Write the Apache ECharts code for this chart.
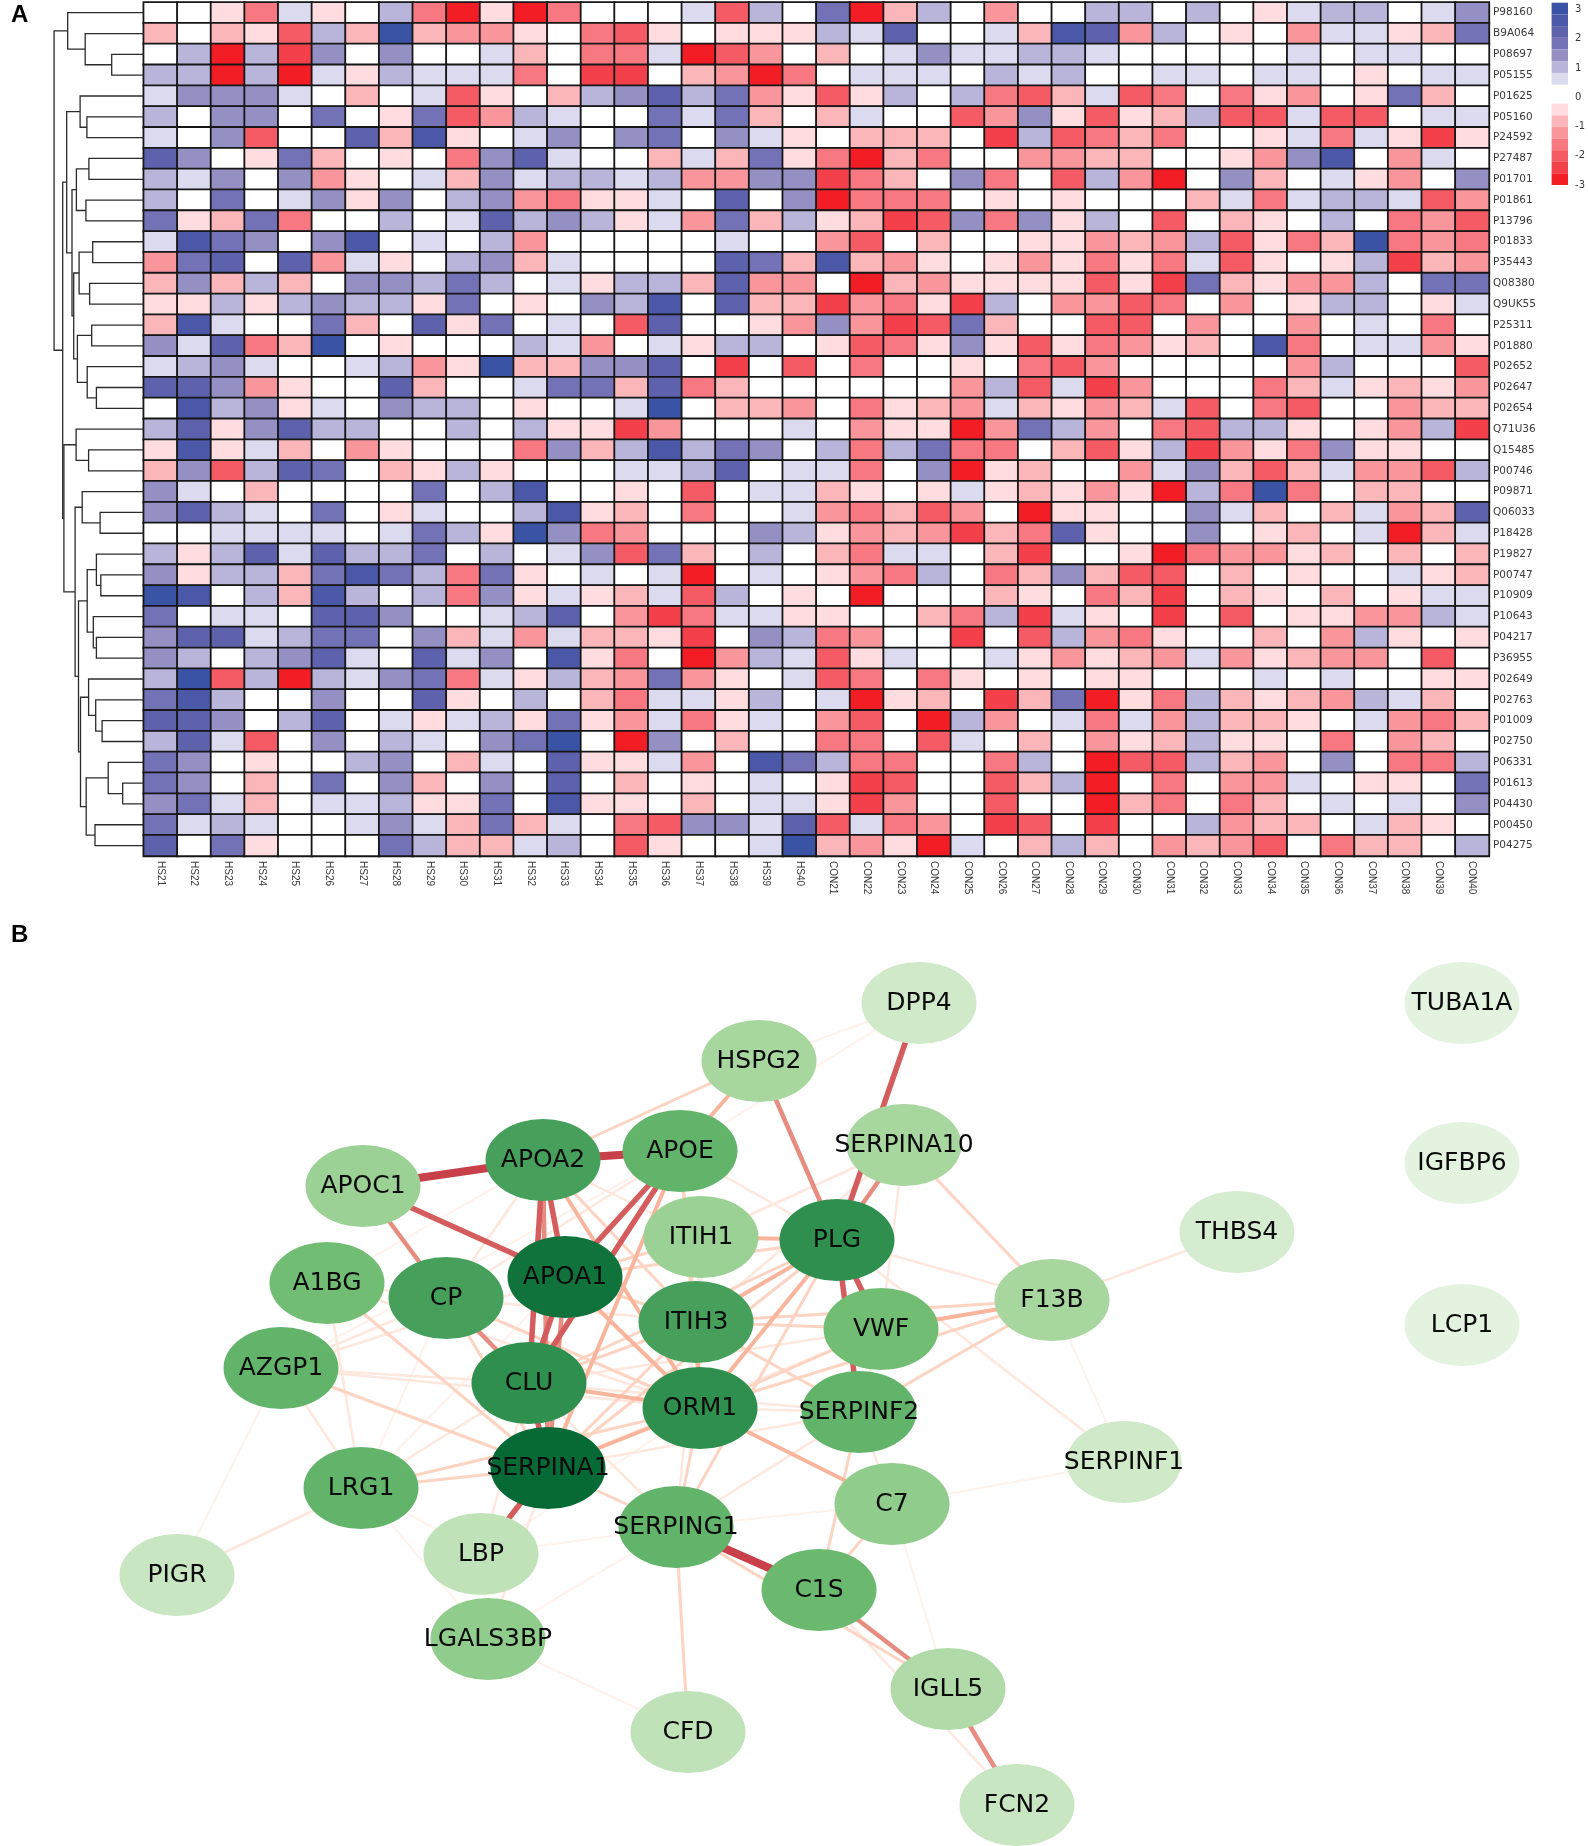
<!DOCTYPE html>
<html>
<head>
<meta charset="UTF-8">
<title>heatmap and network</title>
<style>
  html, body { margin: 0; background: #fff; }
  #main { width: 1588px; height: 1846px; }
</style>
</head>
<body>
<div id="main"></div>
<script src="https://cdn.jsdelivr.net/npm/echarts@6/dist/echarts.min.js"></script>
<script>
// panel A: sample names, protein names
var samples = ['HS21','HS22','HS23','HS24','HS25','HS26','HS27','HS28','HS29','HS30','HS31','HS32','HS33','HS34','HS35','HS36','HS37','HS38','HS39','HS40',
  'CON21','CON22','CON23','CON24','CON25','CON26','CON27','CON28','CON29','CON30','CON31','CON32','CON33','CON34','CON35','CON36','CON37','CON38','CON39','CON40'];
var proteins = ['P98160','B9A064','P08697','P05155','P01625','P05160','P24592','P27487','P01701','P01861','P13796','P01833','P35443','Q08380','Q9UK55','P25311','P01880','P02652','P02647','P02654','Q71U36','Q15485','P00746','P09871','Q06033','P18428','P19827','P00747','P10909','P10643','P04217','P36955','P02649','P02763','P01009','P02750','P06331','P01613','P04430','P00450','P04275'];

// heat levels, -7 (deepest red) .. 7 (deepest blue), one line per protein
var heatRows = [
  [0,0,-1,-4,1,-1,0,2,-4,-7,-1,-7,-4,0,0,0,1,-5,2,0,4,-7,-2,2,0,-3,0,0,2,2,0,2,0,-1,1,2,2,0,1,3],
  [-2,0,-2,-1,-5,2,-2,7,-2,-3,-3,-1,0,-4,-5,-1,0,-1,-1,-1,2,1,5,0,0,1,-2,6,5,-3,2,0,-1,0,-3,1,1,-1,-2,4],
  [0,2,-7,2,-6,3,0,3,0,0,1,-2,0,-4,-4,1,-7,-5,-3,0,-2,0,1,3,1,1,2,2,1,0,0,0,0,0,1,0,1,1,0,0],
  [2,2,-7,2,-7,1,-1,2,1,1,1,-4,0,-6,-6,0,-2,-3,-7,-4,0,1,1,1,0,2,1,2,0,0,1,1,0,1,1,0,-1,0,1,1],
  [1,3,3,3,1,0,-2,0,1,-5,-1,0,-2,2,3,5,2,4,-3,-1,-5,-1,2,0,2,-4,-5,-2,1,-5,-4,0,-4,-1,-3,0,-1,4,-2,0],
  [2,0,3,3,0,4,0,-1,4,-5,-3,2,1,0,0,4,1,4,-2,0,-2,1,0,0,-5,-3,3,-1,-5,-1,-2,2,-5,-5,1,-5,-5,0,1,1],
  [1,0,3,-5,0,0,5,-2,6,-1,0,1,3,0,3,4,0,3,1,-1,0,-2,-2,-2,0,-6,2,-5,-4,-2,-4,0,0,-1,1,-4,1,-1,-6,-1],
  [5,3,0,-1,4,-2,0,-1,0,-4,3,5,1,0,0,-2,1,-2,4,-1,-4,-7,-2,-4,0,0,-3,-3,-2,-2,0,0,-1,-3,3,6,0,-3,1,0],
  [2,1,3,0,3,-3,-1,0,1,-2,3,1,2,2,1,2,-3,-3,3,3,-6,-4,-2,0,3,-4,0,-5,2,-3,-7,0,3,-2,0,1,-1,-3,0,3],
  [2,0,4,0,1,3,-1,3,0,2,3,-3,-4,-1,-1,1,0,5,0,3,-7,-4,-4,-4,0,-1,0,-1,0,0,0,-2,1,-4,1,2,2,1,-5,-3],
  [4,-1,-2,4,-4,0,0,2,0,1,5,2,3,2,-1,1,-3,4,-2,2,-1,-2,-6,-5,3,-4,3,-1,2,0,-5,0,-2,-1,0,2,0,-4,-3,-5],
  [1,6,4,3,0,3,6,0,1,0,2,-3,0,0,0,0,0,1,0,0,-3,-5,0,-2,0,0,-1,-1,-3,-2,-3,2,-5,-1,-4,-2,7,-4,-3,-4],
  [-3,4,5,0,5,-3,1,-1,0,2,3,-2,1,0,0,0,0,5,4,-2,6,-2,-3,-1,0,-1,-3,-1,-4,-1,-4,1,-5,-1,0,-1,2,-6,-2,-3],
  [-2,3,-2,2,-2,0,3,3,2,4,2,0,1,-1,2,2,-2,5,-3,-3,0,-7,-2,-3,-1,-1,-1,-1,-5,-1,-6,4,-2,-1,-3,-3,2,0,4,4],
  [-1,-1,2,-1,2,3,2,2,-1,4,0,-1,0,3,2,6,0,5,-2,-2,-6,-3,-4,-1,-6,2,0,-3,-3,-5,-4,0,-3,0,-1,2,2,0,-1,1],
  [-2,6,1,0,0,4,-2,0,5,-1,4,0,1,0,-5,5,0,0,-1,-3,3,-3,-6,-5,4,-2,0,0,-5,-5,0,-3,0,0,-3,0,1,0,-4,0],
  [3,1,5,-4,-2,7,0,-1,0,0,0,2,1,-3,0,1,-1,2,2,0,-1,-5,-4,-1,3,-1,-5,-1,-4,-3,-1,-2,0,6,-4,0,1,1,-3,-1],
  [1,2,3,1,0,0,1,2,-3,-1,7,-2,-2,3,3,5,0,-6,0,-5,0,-4,0,0,-1,0,-4,-5,-3,0,0,0,0,0,-3,2,0,0,0,-5],
  [5,5,3,-3,-1,0,0,5,-2,0,0,1,4,4,-2,5,-4,-2,0,0,0,0,0,0,-3,2,-5,1,-6,-3,0,0,0,-4,-2,1,-1,-2,-1,-3],
  [0,6,2,3,-1,1,0,3,2,2,0,-1,0,0,1,7,0,-2,-2,-3,0,-4,-1,-2,-3,1,-2,-1,-3,-2,1,-5,0,-4,-5,0,0,-3,-2,-2],
  [2,5,-1,3,5,2,2,0,0,2,0,2,-1,-1,-6,-3,0,0,0,1,0,-3,-1,-1,-7,-3,4,2,-3,0,-4,-5,2,2,-1,0,-1,-3,2,-6],
  [-1,6,-1,1,-2,0,-3,-1,0,0,0,-4,3,-2,2,6,2,4,3,0,2,-4,2,4,-4,-4,0,-2,-5,-1,2,-6,-3,-1,-4,3,-1,-1,0,0],
  [-2,3,-5,2,5,4,0,-2,-1,2,-1,0,0,0,1,1,2,5,0,1,1,-4,0,3,-7,-1,-2,0,0,-3,1,3,-2,-5,-2,1,-3,-3,-5,2],
  [3,1,0,-2,0,0,0,0,4,0,2,6,0,0,-1,0,-5,0,1,1,-2,-1,0,-1,1,-1,-2,-1,-3,-1,-7,2,-4,7,-4,0,-2,-2,0,0],
  [3,5,2,1,0,4,0,-1,1,0,0,2,6,-1,-2,0,-4,0,0,1,-3,-4,-2,-5,-3,0,-7,-1,-1,0,0,3,1,-2,0,-2,1,-3,-2,5],
  [0,0,1,1,1,1,0,1,4,2,-1,7,3,-4,-3,0,0,0,3,2,-1,-3,-2,-3,-6,-2,-4,5,-1,0,0,3,0,-1,-2,0,1,-7,-2,1],
  [2,-1,2,5,1,5,2,2,4,0,2,0,1,3,-5,4,-2,0,2,0,-2,-4,1,1,0,-2,-6,0,0,-1,-7,-4,-3,-3,-1,-2,0,-2,0,-2],
  [3,-1,2,2,-2,4,6,4,2,-4,4,-1,0,1,0,1,-7,0,1,0,-1,-3,-4,2,0,-4,-2,3,-2,-5,-5,0,-2,0,-1,0,0,1,-1,-2],
  [7,6,0,2,-2,6,2,0,2,-4,3,-1,1,-1,-2,1,-5,2,0,-1,0,-7,0,0,0,-2,-1,0,-4,-2,-6,0,-2,-1,0,-2,0,-1,1,1],
  [4,0,1,1,0,5,5,3,0,0,1,2,5,0,-3,-6,-4,1,1,-1,-1,0,0,-2,-4,2,-6,1,-1,0,-6,0,-5,0,-1,-1,-3,-3,2,1],
  [3,5,5,1,2,4,4,0,3,-2,1,-3,1,-2,-2,-1,-6,0,3,2,-4,-3,0,0,-6,0,-5,2,-3,-4,-1,0,0,-2,0,-3,2,-1,0,-1],
  [3,2,0,2,3,5,1,0,5,1,3,0,6,-1,-4,0,-7,-3,2,1,-5,-1,1,0,0,1,-1,-3,-1,-2,-3,1,-3,-1,-2,-3,-3,0,-5,0],
  [2,7,-5,2,-7,2,1,3,4,-4,1,-1,2,-2,-3,4,-3,-1,0,1,-5,-4,0,-4,-1,0,-1,0,-1,-1,0,0,0,1,0,1,0,0,-1,-1],
  [4,6,2,0,0,3,0,0,5,-1,0,2,0,-2,-4,1,1,-1,2,0,1,-7,-1,-2,0,-6,-2,4,-7,-1,-4,2,-2,-1,-2,-3,2,1,-2,0],
  [5,5,3,0,2,5,0,1,-1,1,2,-1,4,-1,-3,1,-4,-1,1,0,-3,-5,0,-7,2,-3,0,1,-4,1,-3,2,-2,-2,-1,0,1,-3,-4,-2],
  [2,5,1,-5,0,3,0,2,1,0,3,4,7,0,-7,3,0,-2,0,0,-4,-4,0,-5,1,0,-2,0,-3,-1,-2,2,-1,-1,0,-4,0,-3,-2,0],
  [4,3,0,-1,0,0,2,3,0,-2,1,0,5,-1,-1,1,-3,0,6,4,2,-4,-4,0,0,-4,2,0,-7,-5,-5,2,-2,-3,0,3,0,-4,-4,2],
  [4,3,0,-2,0,4,0,3,-2,0,3,0,5,0,-2,0,-1,0,1,0,-1,-6,-5,0,0,-5,-2,2,-7,0,-4,0,-3,-3,1,0,-1,-1,0,4],
  [3,4,1,-2,0,1,1,2,-1,-1,4,0,6,-1,-1,0,-2,0,1,1,-1,-6,-3,0,0,-5,0,0,-7,-2,-4,0,-4,-2,0,1,0,1,0,3],
  [4,1,2,1,0,0,1,3,1,-2,4,-2,1,0,-4,-5,3,3,1,5,-5,1,-4,-3,0,-6,-5,0,-6,0,0,2,-3,-2,-2,0,1,-2,-1,0],
  [5,0,4,-1,0,0,0,4,2,-2,-2,1,2,0,-5,-1,0,0,1,7,-2,-3,-1,-7,1,0,-2,2,-2,0,-3,-2,-3,-5,0,-4,-2,-2,0,2]
];
var levelColors = {
  '-7': '#f21d25', '-6': '#f3404a', '-5': '#f45b65', '-4': '#f77880', '-3': '#f9969c', '-2': '#fbb6ba', '-1': '#ffdcdf',
  '0': '#ffffff',
  '1': '#dcdaee', '2': '#b8b4da', '3': '#9490c4', '4': '#7472b6', '5': '#5e61ab', '6': '#4b58a8', '7': '#3a53a4'
};

// colour key: top value, bottom value, level
var legendBands = [
  [3.23,2.83,7],[2.83,2.43,6],[2.43,2.03,5],[2.03,1.63,4],[1.63,1.23,3],[1.23,0.83,2],[0.83,0.43,1],
  [-0.22,-0.62,-1],[-0.62,-1.01,-2],[-1.01,-1.41,-3],[-1.41,-1.81,-4],[-1.81,-2.21,-5],[-2.21,-2.60,-6],[-2.60,-3,-7]
];

// row dendrogram: child, child, merge height. 0-40 are rows, merge k gets id 41+k
var merges = [
  [2,3,32],[1,41,58.5],[0,42,76],[5,6,56.8],[4,44,63.6],[7,8,54.8],[9,10,57.8],[46,47,67.3],
  [11,12,51],[13,14,54.1],[49,50,64.6],[15,16,52],[18,19,47.3],[17,53,56.5],[52,54,66.3],[51,55,70],
  [48,56,71.7],[45,57,77],[21,22,55.1],[20,59,67.6],[24,25,43.6],[23,61,61.5],[27,28,42.9],[26,63,47.3],
  [30,31,47.3],[29,65,50.4],[64,66,56.5],[34,35,41.6],[33,68,48],[32,69,55.1],[37,38,21],[36,71,35.5],
  [39,40,48.7],[72,73,57.5],[70,74,63.2],[67,75,65.2],[62,76,68.6],[60,77,79.8],[58,78,81],[43,79,89.6]
];

// panel B: name, x, y, degree
var netNames = ['DPP4','TUBA1A','HSPG2','SERPINA10','IGFBP6','APOE','APOA2','APOC1','THBS4','ITIH1','PLG','APOA1','A1BG','CP','F13B','ITIH3','VWF','LCP1','AZGP1','CLU','ORM1','SERPINF2','SERPINF1','SERPINA1','LRG1','C7','SERPING1','LBP','PIGR','C1S','LGALS3BP','IGLL5','CFD','FCN2'];
var netX = [919,1462,759,904,1462,680,543,363,1237,701,837,565,327,446,1052,696,881,1462,281,529,700,859,1124,548,361,892,676,481,177,819,488,948,688,1017];
var netY = [1003,1003,1061,1145,1163,1151,1160,1186,1232,1237,1240,1277,1283,1298,1300,1322,1329,1325,1368,1383,1408,1412,1462,1468,1488,1504,1527,1554,1575,1590,1639,1689,1732,1805];
var netDegree = [3,0,8,8,0,15,18,9,2,9,20,23,13,18,8,18,13,0,15,20,20,15,3,24,15,10,15,5,4,14,10,7,5,4];

// source, target, strength 1-7
var netEdges = [
  ['PIGR','LRG1',2],['PIGR','AZGP1',1],['DPP4','HSPG2',1],['DPP4','APOE',1],['SERPINF1','C7',1],['SERPINF1','PLG',2],['SERPINF1','F13B',1],
  ['THBS4','F13B',2],['CFD','LGALS3BP',1],['LGALS3BP','LBP',1],['LGALS3BP','LRG1',1],['C7','IGLL5',1],['SERPING1','C7',1],['SERPING1','LGALS3BP',1],
  ['LRG1','CP',1],['LRG1','APOA1',1],['LBP','LRG1',1],['LBP','SERPING1',1],['LBP','ORM1',1],['A1BG','APOA2',1],['AZGP1','APOE',1],
  ['A1BG','LRG1',2],['A1BG','ORM1',2],['A1BG','CP',2],['AZGP1','LRG1',2],['AZGP1','CLU',2],['AZGP1','ORM1',2],['AZGP1','CP',2],['AZGP1','APOA1',2],
  ['LRG1','CLU',2],['LBP','CLU',2],['LGALS3BP','SERPINA1',2],['SERPING1','CLU',2],['SERPING1','ITIH3',2],['SERPING1','SERPINF2',2],
  ['CP','ITIH3',2],['CP','APOA2',2],['CP','APOE',2],['APOA2','ITIH1',2],['APOE','PLG',2],['ITIH1','ITIH3',2],['ITIH1','ORM1',2],
  ['VWF','SERPINA1',2],['VWF','SERPINF2',2],['VWF','CLU',2],['SERPINF2','ORM1',2],['SERPINF2','SERPINA1',2],['SERPINF2','CLU',2],
  ['SERPINA10','VWF',2],['SERPINA10','ITIH1',2],['SERPINA10','ITIH3',2],['F13B','PLG',2],['C7','SERPINF2',2],
  ['A1BG','SERPINA1',3],['AZGP1','SERPINA1',3],['LRG1','SERPINA1',3],['LRG1','ORM1',3],['SERPING1','SERPINA1',3],['SERPING1','ORM1',3],['PLG','SERPING1',3],
  ['CP','ORM1',3],['CP','SERPINA1',3],['APOA1','ITIH1',3],['APOA1','ITIH3',3],['APOA1','PLG',3],['APOA2','ITIH3',3],['APOE','ITIH3',3],['APOE','ORM1',3],
  ['ITIH3','VWF',3],['ITIH3','SERPINA1',3],['ITIH3','CLU',3],['ITIH3','SERPINF2',3],['PLG','SERPINA1',3],['PLG','CLU',3],['VWF','ORM1',3],
  ['F13B','ITIH3',3],['F13B','SERPINF2',3],['F13B','ORM1',3],['SERPINA10','F13B',3],['HSPG2','APOA2',3],['C7','C1S',3],['SERPINF2','C1S',3],['CFD','SERPING1',3],
  ['C1S','FCN2',2],['SERPING1','IGLL5',3],
  ['HSPG2','APOE',4],['F13B','VWF',4],['ITIH1','PLG',4],['ITIH3','PLG',4],['ITIH3','ORM1',4],['PLG','ORM1',4],['APOA2','ORM1',4],['APOE','SERPINA1',4],
  ['ORM1','CLU',4],['ORM1','SERPINA1',4],['ORM1','C7',4],['APOA1','ORM1',4],
  ['APOC1','CP',5],['CP','CLU',5],['APOA2','SERPINA1',5],['APOA1','SERPINA1',5],['HSPG2','PLG',5],['C1S','IGLL5',5],['IGLL5','FCN2',5],['SERPINA10','PLG',5],
  ['CLU','SERPINA1',6],['SERPINA1','LBP',6],['APOC1','APOA1',6],['APOA2','APOA1',6],['APOA2','CLU',6],['APOE','APOA1',6],['APOE','CLU',6],['APOA1','CLU',6],
  ['DPP4','PLG',6],['PLG','VWF',6],['PLG','SERPINF2',6],
  ['APOC1','APOA2',7],['APOA2','APOE',7],['SERPING1','C1S',7]
];
var edgeColors = [null,'#fff2ec','#fee7dd','#fdd3c2','#f9b59c','#e68c80','#d55c5d','#c8404a'];
var edgeWidths = [0,2,2.5,3,4,4.5,5.5,8];
var degreeStops = ['#e4f2e0','#c8e6c1','#a8d69f','#78c177','#5cb067','#2f8f4e','#066a36'];

var heatData = [];
heatRows.forEach(function (row, r) {
  row.forEach(function (v, c) {
    heatData.push([c, r, v]);
  });
});

// row centres and heights of every dendrogram node
var treeY = proteins.map(function (p, i) { return i + 0.5; });
var treeH = proteins.map(function () { return 0; });
var treeData = [];
merges.forEach(function (m) {
  var a = m[0], b = m[1];
  treeData.push([treeH[a], treeY[a], treeH[b], treeY[b], m[2]]);
  treeY.push((treeY[a] + treeY[b]) / 2);
  treeH.push(m[2]);
});

var chart = echarts.init(document.getElementById('main'));

var netNodes = netNames.map(function (name, i) {
  return {
    name: name,
    value: [netX[i], netY[i]],
    itemStyle: { color: echarts.color.lerp(netDegree[i] / 24, degreeStops) }
  };
});
var netLinks = netEdges.map(function (e) {
  return {
    source: e[0],
    target: e[1],
    lineStyle: { color: edgeColors[e[2]], width: edgeWidths[e[2]], opacity: 1, curveness: 0 }
  };
});

var labelColor = '#3a3a3a';

chart.setOption({
  animation: false,
  backgroundColor: '#fff',
  title: [
    { text: 'A', left: 11, top: 3, padding: 0, textStyle: { fontFamily: 'Liberation Sans', fontWeight: 'bold', fontSize: 24, color: '#000' } },
    { text: 'B', left: 11, top: 923, padding: 0, textStyle: { fontFamily: 'Liberation Sans', fontWeight: 'bold', fontSize: 24, color: '#000' } }
  ],
  grid: [
    { left: 143.7, top: 2.3, width: 1345.3, height: 853.7 },
    { left: 43.7, top: 2.3, width: 100, height: 853.7 },
    { left: 1551.6, top: 2.7, width: 17, height: 182.3 },
    { left: 0, top: 0, width: 1588, height: 1846 }
  ],
  xAxis: [
    {
      gridIndex: 0, type: 'category', data: samples, position: 'bottom',
      axisLine: { show: false }, axisTick: { show: false }, splitLine: { show: false },
      axisLabel: { rotate: -90, interval: 0, margin: 5, fontSize: 10, color: labelColor, fontFamily: 'Liberation Sans' }
    },
    { gridIndex: 1, type: 'value', min: 0, max: 100, inverse: true, show: false },
    { gridIndex: 2, type: 'value', min: 0, max: 1, show: false },
    { gridIndex: 3, type: 'value', min: 0, max: 1588, show: false }
  ],
  yAxis: [
    {
      gridIndex: 0, type: 'category', data: proteins, inverse: true, position: 'right',
      axisLine: { show: false }, axisTick: { show: false }, splitLine: { show: false },
      axisLabel: { interval: 0, margin: 4, fontSize: 10.5, color: labelColor, fontFamily: 'DejaVu Sans' }
    },
    { gridIndex: 1, type: 'value', min: 0, max: 41, inverse: true, show: false },
    {
      gridIndex: 2, type: 'value', min: -3, max: 3.23, interval: 1, position: 'right',
      axisLine: { show: false }, axisTick: { show: false }, splitLine: { show: false },
      axisLabel: {
        margin: 7, fontSize: 10, color: labelColor, fontFamily: 'DejaVu Sans',
        formatter: function (v) { return Number.isInteger(v) ? String(v) : ''; }
      }
    },
    { gridIndex: 3, type: 'value', min: 0, max: 1846, inverse: true, show: false }
  ],
  visualMap: {
    show: false,
    type: 'piecewise',
    seriesIndex: 0,
    dimension: 2,
    pieces: Object.keys(levelColors).map(function (k) {
      return { value: Number(k), color: levelColors[k] };
    })
  },
  series: [
    {
      type: 'heatmap',
      xAxisIndex: 0,
      yAxisIndex: 0,
      data: heatData,
      itemStyle: { borderColor: '#161616', borderWidth: 1.8 },
      emphasis: { disabled: true }
    },
    {
      type: 'custom',
      xAxisIndex: 1,
      yAxisIndex: 1,
      data: treeData,
      clip: false,
      silent: true,
      renderItem: function (params, api) {
        var h = api.value(4);
        var pts = [
          api.coord([api.value(0), api.value(1)]),
          api.coord([h, api.value(1)]),
          api.coord([h, api.value(3)]),
          api.coord([api.value(2), api.value(3)])
        ];
        return { type: 'polyline', shape: { points: pts }, style: { stroke: '#2b2b2b', lineWidth: 1.3, fill: null } };
      }
    },
    {
      type: 'custom',
      xAxisIndex: 2,
      yAxisIndex: 2,
      data: legendBands,
      silent: true,
      renderItem: function (params, api) {
        var p0 = api.coord([0, api.value(0)]);
        var p1 = api.coord([1, api.value(1)]);
        return {
          type: 'rect',
          shape: { x: p0[0], y: p0[1], width: p1[0] - p0[0], height: p1[1] - p0[1] },
          style: { fill: levelColors[api.value(2)] }
        };
      }
    },
    {
      type: 'graph',
      coordinateSystem: 'cartesian2d',
      xAxisIndex: 3,
      yAxisIndex: 3,
      layout: 'none',
      silent: true,
      symbol: 'path://M100,50 A50,50 0 1 1 0,50 A50,50 0 1 1 100,50 Z',
      symbolSize: [115, 82],
      data: netNodes,
      links: netLinks,
      label: { show: true, position: 'inside', fontFamily: 'DejaVu Sans', fontSize: 25, color: '#0a0a0a' }
    }
  ]
});
</script>
</body>
</html>
